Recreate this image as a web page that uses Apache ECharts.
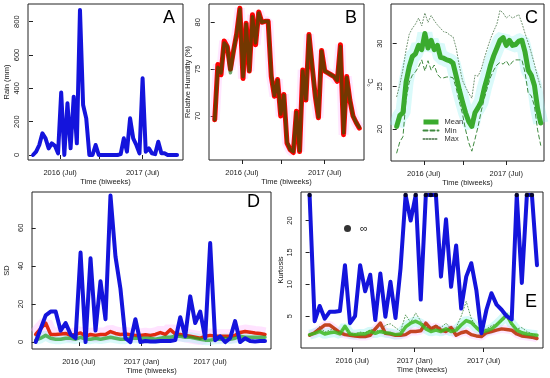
<!DOCTYPE html>
<html><head><meta charset="utf-8">
<script src="https://cdn.jsdelivr.net/npm/echarts@6/dist/echarts.min.js"></script>
<style>html,body{margin:0;padding:0;background:#fff}#c{width:550px;height:378px}</style>
</head><body><div id="c"></div>
<script>
// ---------- DATA ----------
const timeTickLabels = ['2016 (Jul)', '2017 (Jan)', '2017 (Jul)'];
const timeTicksABCD = [8.65, 21.25, 35.0];   // biweek index of tick marks (panels A-D)
const timeTicksE = [8.45, 20.8, 34.43];      // biweek index of tick marks (panel E)

// Panel A: rain (mm)
const rain = [0, 20, 60, 130, 100, 40, 70, 55, 10, 375, 0, 310, 40, 350, 70, 870, 300, 220, 0, 0, 60, 0, 0, 0, 0, 0, 0, 0, 5, 100, 20, 220, 100, 60, 10, 460, 20, 40, 10, 5, 80, 10, 10, 0, 0, 0, 0];
// Panel B: relative humidity (%) two overlaid series
const rhRed = [69.6, 75.5, 74.4, 78, 77.4, 75, 77, 78.8, 81.5, 74, 79.9, 74.8, 80.8, 77.6, 81.1, 80, 80.1, 80.1, 74.2, 72.1, 73.9, 70, 72.3, 67.1, 66.4, 66.1, 70.5, 66.2, 74.9, 71.7, 78.7, 75.3, 72.1, 69.8, 77, 74.8, 74.6, 74.4, 74.2, 73.7, 77.6, 68, 74.2, 71.7, 70, 69.3, 68.7];
const rhGreen = [69.6, 75.2, 74.6, 77.8, 77.4, 74.6, 77, 78.8, 81.4, 74.2, 79.8, 74.8, 80.6, 77.8, 81, 80, 80.1, 80.1, 74.4, 72.2, 73.8, 70.2, 72.2, 67.2, 66.4, 66.2, 70.4, 66.3, 74.8, 71.8, 78.6, 75.3, 72.2, 69.9, 76.9, 74.8, 74.6, 74.4, 74.2, 73.8, 77.4, 68.2, 74.1, 71.7, 70, 69.3, 68.8];
// Panel C: temperature (°C)
const tMean = [20.3, 21.6, 21.9, 25.5, 27.3, 28.5, 28.8, 29.8, 29.3, 31.2, 29.5, 30.4, 29.3, 29.8, 28.4, 28.3, 28.1, 28.0, 27.7, 26.2, 24.6, 23.2, 21.9, 20.9, 20.3, 21.9, 22.5, 23.2, 24.8, 26.1, 27.5, 28.6, 29.5, 30.4, 30.7, 29.8, 30.4, 29.8, 29.9, 30.3, 30.4, 29.0, 26.9, 26.3, 25.1, 22.4, 20.7];
const tMin = [17.2, 18.5, 19.1, 23.5, 25.5, 26.3, 26.7, 27.3, 28.1, 26.8, 28.0, 26.9, 27.5, 26.4, 26.0, 26.0, 26.1, 26.1, 26.0, 24.8, 23.2, 21.8, 19.9, 18.4, 17.4, 18.8, 20.3, 22.1, 23.6, 24.9, 26.1, 26.9, 27.5, 27.8, 27.6, 28.0, 27.4, 27.9, 28.1, 28.1, 28.1, 26.6, 24.2, 23.9, 22.7, 19.9, 18.1];
const tMax = [23.8, 25.2, 27.0, 29.3, 31.1, 31.8, 32.3, 33.0, 32.1, 33.6, 32.5, 33.3, 32.7, 32.2, 31.8, 31.4, 31.3, 31.0, 30.8, 29.5, 27.4, 25.7, 24.9, 24.2, 23.6, 26.3, 26.2, 27.0, 28.3, 29.5, 30.6, 31.5, 32.3, 33.9, 33.6, 33.0, 33.3, 33.0, 33.2, 33.4, 32.4, 31.2, 30.1, 28.9, 27.6, 26.1, 24.9];
// Panel D: standard deviations
const sdRain = [0, 7, 14, 16, 16, 6, 10, 4, 2, 47, 0, 44, 6, 32, 12, 77, 45, 28, 2, 0, 12, 0, 0.5, 0.3, 0.3, 0.5, 0.5, 0.5, 1, 13, 3, 24, 10, 16, 2, 52, 1, 3, 0, 2, 11, 0, 2, 0.5, 0.3, 0.5, 0.5];
const sdRH = [4, 7, 10, 4, 4, 4.2, 4.5, 3.5, 4, 4.8, 3, 4, 3.5, 4, 4, 5.5, 4.5, 4, 4.2, 3.8, 3.5, 3.5, 3.8, 3.5, 4, 5, 4, 6.5, 4.2, 4, 3.5, 3, 2.5, 2, 3, 3.5, 3, 3, 3, 3, 3.5, 5, 5.5, 5.2, 4.8, 4.5, 4];
const sdTemp = [1, 2, 3.5, 2, 1.5, 1.5, 2, 2, 1.5, 2.5, 1.5, 1.5, 2, 1.5, 2, 2.5, 2, 1.5, 1.5, 2, 2, 2, 2, 2, 1.5, 2, 2.5, 2.5, 3, 3, 2.5, 2.5, 2, 1.5, 1, 1, 1.5, 1.5, 2, 1.5, 2, 3, 2.5, 2.5, 2.5, 2.5, 2.5];
// Panel E: kurtosis (24 = infinite)
const kRain = [24, 4.2, 6.6, 4.6, 5.7, 5.7, 5.8, 13, 3.9, 5, 13, 8.9, 11.5, 4.4, 11.7, 4.9, 10.4, 4.7, 12.5, 24, 20, 24, 7.6, 24, 24, 24, 11.2, 20.2, 9.6, 16.1, 6.2, 11.2, 13.3, 9.1, 2.3, 6, 8.6, 6.8, 6, 5, 4.5, 24, 10.2, 24, 24, 13];
const kRH = [2.0, 2.4, 3.0, 3.6, 3.6, 3.0, 2.4, 2.1, 2.0, 1.9, 1.8, 1.8, 2.0, 3.0, 3.9, 2.3, 2.2, 2.0, 2.0, 2.1, 2.6, 2.6, 2.7, 3.9, 3.0, 3.4, 2.8, 2.6, 3.2, 2.0, 2.4, 2.6, 2.1, 1.9, 1.8, 2.4, 2.6, 2.8, 3.0, 2.9, 2.8, 2.2, 1.9, 1.8, 1.7, 1.5];
const kTemp = [2.1, 2.3, 2.6, 2.2, 2.4, 2.5, 2.2, 3.4, 2.2, 2.1, 2.2, 2.2, 2.6, 2.3, 2.6, 2.4, 2.3, 2.1, 2.2, 3.3, 3.9, 4.2, 3.8, 3.0, 2.6, 2.8, 2.6, 3.0, 2.6, 2.8, 3.6, 4.3, 4.0, 3.2, 2.5, 2.7, 3.0, 3.6, 4.4, 5.2, 3.8, 2.8, 2.4, 2.2, 2.1, 2.0];
const kTempMax = [2.1, 2.6, 3.4, 2.5, 2.8, 3.0, 2.4, 3.2, 2.3, 2.2, 2.5, 2.4, 2.8, 3.0, 2.4, 3.6, 3.8, 3.2, 2.6, 5.2, 4.0, 5.5, 4.2, 3.3, 3.0, 3.6, 3.2, 3.9, 3.0, 3.2, 5.0, 7.3, 4.6, 3.4, 2.7, 3.0, 3.5, 3.8, 4.2, 4.8, 3.6, 3.0, 3.2, 2.6, 2.2, 2.0];
const infCap = 24;

// ---------- HELPERS ----------
const xy = a => a.map((v, i) => [i, v]);
const FONT = 'Liberation Sans, Arial, Helvetica, sans-serif';
const TXT = '#222';

function nearestLabel(v, ticks, labels) {
  let best = 0;
  ticks.forEach((t, k) => { if (Math.abs(t - v) < Math.abs(ticks[best] - v)) best = k; });
  return labels[best];
}
function xAxis(gi, min, max, ticks, labels) {
  return {
    type: 'value', gridIndex: gi, min: min, max: max,
    name: 'Time (biweeks)', nameLocation: 'middle', nameGap: 18,
    nameTextStyle: { fontSize: 7.5, color: TXT, fontFamily: FONT },
    axisLine: { show: false }, splitLine: { show: false },
    axisTick: { show: true, inside: false, length: 4, customValues: ticks, lineStyle: { color: '#222' } },
    axisLabel: { fontSize: 7.5, color: TXT, fontFamily: FONT, margin: 9,
      customValues: ticks, formatter: v => nearestLabel(v, ticks, labels) }
  };
}
function yAxis(gi, min, max, ticks, name, gap) {
  return {
    type: 'value', gridIndex: gi, min: min, max: max,
    name: name, nameLocation: 'middle', nameGap: gap, nameRotate: 90,
    nameTextStyle: { fontSize: 7.5, color: TXT, fontFamily: FONT },
    axisLine: { show: false }, splitLine: { show: false },
    axisTick: { show: true, inside: false, length: 4, customValues: ticks, lineStyle: { color: '#222' } },
    axisLabel: { fontSize: 7.5, color: TXT, fontFamily: FONT, rotate: 90, margin: 7, customValues: ticks }
  };
}
function line(name, gi, arr, color, width, type, z) {
  return { name: name, type: 'line', xAxisIndex: gi, yAxisIndex: gi, data: xy(arr),
    showSymbol: false, symbol: 'none', silent: true, z: z || 2,
    lineStyle: { color: color, width: width, type: type || 'solid', join: 'round', cap: 'round' },
    itemStyle: { color: color } };
}
// soft translucent halo behind a series (the light bands of the original)
function halo(id, gi, arr, color, width) {
  return { name: id, type: 'line', xAxisIndex: gi, yAxisIndex: gi, data: xy(arr),
    symbol: 'none', silent: true, z: 1,
    lineStyle: { color: color, width: width, join: 'bevel', cap: 'butt' } };
}

const grids = [
  { left: 28, top: 4, width: 155, height: 156 },
  { left: 209, top: 4, width: 155, height: 156 },
  { left: 391, top: 4, width: 153, height: 157 },
  { left: 32, top: 192, width: 239, height: 157 },
  { left: 301, top: 192, width: 242, height: 156 }
].map(g => Object.assign(g, { show: true, borderColor: '#222', borderWidth: 1, backgroundColor: 'transparent' }));

const labelsABC = [timeTickLabels[0], '', timeTickLabels[2]];

const option = {
  animation: false,
  backgroundColor: '#fff',
  textStyle: { fontFamily: FONT },
  grid: grids,
  xAxis: [
    xAxis(0, -1.6, 47.9, timeTicksABCD, labelsABC),
    xAxis(1, -1.82, 47.5, timeTicksABCD, labelsABC),
    xAxis(2, -1.82, 47.05, timeTicksABCD, labelsABC),
    xAxis(3, -0.74, 47.2, timeTicksABCD, timeTickLabels),
    xAxis(4, -1.7, 46.19, timeTicksE, timeTickLabels)
  ],
  yAxis: [
    yAxis(0, -30, 906, [0, 200, 400, 600, 800], 'Rain (mm)', 17),
    yAxis(1, 65.3, 81.95, [70, 75, 80], 'Relative Humidity (%)', 17),
    yAxis(2, 16.25, 34.65, [20, 25, 30], '°C', 16),
    yAxis(3, -3.66, 78.85, [0, 20, 40, 60], 'SD', 21),
    yAxis(4, 0, 24.48, [5, 10, 15, 20], 'Kurtosis', 16)
  ],
  legend: [
    { data: [{ name: 'Mean', lineStyle: { width: 5, cap: 'butt' } }, { name: 'Min' }, { name: 'Max' }],
      orient: 'vertical', left: 416, top: 113, itemWidth: 15, itemHeight: 8, itemGap: 0.5,
      itemStyle: { opacity: 0 },
      textStyle: { fontSize: 7.5, color: '#333', fontFamily: FONT, padding: [0, 0, 0, 1] }, selectedMode: false },
    { data: [{ name: '∞', icon: 'circle' }], left: 339, top: 218, itemWidth: 7, itemHeight: 7,
      textStyle: { fontSize: 11, color: '#222', fontFamily: FONT, padding: [0, 0, 0, 4] }, selectedMode: false }
  ],
  graphic: [
    { type: 'text', left: 163, top: 9, style: { text: 'A', fontSize: 18, fill: '#000', fontFamily: FONT } },
    { type: 'text', left: 345, top: 9, style: { text: 'B', fontSize: 18, fill: '#000', fontFamily: FONT } },
    { type: 'text', left: 525, top: 9, style: { text: 'C', fontSize: 18, fill: '#000', fontFamily: FONT } },
    { type: 'text', left: 247, top: 193, style: { text: 'D', fontSize: 18, fill: '#000', fontFamily: FONT } },
    { type: 'text', left: 525, top: 293, style: { text: 'E', fontSize: 18, fill: '#000', fontFamily: FONT } }
  ],
  series: [
    // A
    line('rain', 0, rain, '#1414dc', 4),
    // B
    halo('rhHalo', 1, rhRed, 'rgba(255,170,255,0.28)', 10),
    line('rhRed', 1, rhRed, '#ff0000', 5),
    line('rhGreen', 1, rhGreen, 'rgba(0,100,0,0.55)', 3.5, 'solid', 3),
    // C
    halo('tHalo', 2, tMean, 'rgba(150,240,240,0.35)', 15),
    line('Max', 2, tMax, '#6f926f', 1, [1, 2]),
    line('Min', 2, tMin, '#3f8a3f', 1, [4, 3]),
    line('Mean', 2, tMean, '#3aab2e', 5, 'solid', 3),
    // D
    halo('sdHaloR', 3, sdRH, 'rgba(255,175,255,0.35)', 14),
    halo('sdHaloT', 3, sdTemp, 'rgba(150,240,240,0.35)', 10),
    line('sdRH', 3, sdRH, '#e02a10', 3.5),
    line('sdTemp', 3, sdTemp, 'rgba(30,160,30,0.7)', 3.5, 'solid', 3),
    line('sdRain', 3, sdRain, '#1414dc', 4, 'solid', 4),
    // E
    halo('kHaloT', 4, kTemp, 'rgba(150,240,240,0.4)', 10),
    halo('kHaloR', 4, kRH, 'rgba(255,175,255,0.3)', 8),
    line('kTempMax', 4, kTempMax, '#5c9c5c', 1, [1, 2]),
    line('kRH', 4, kRH, 'rgba(190,50,10,0.9)', 3.5),
    line('kTemp', 4, kTemp, 'rgba(60,185,30,0.85)', 3.5, 'solid', 3),
    line('kRain', 4, kRain, '#1414dc', 4, 'solid', 4),
    { name: '∞', type: 'scatter', xAxisIndex: 4, yAxisIndex: 4, silent: true, z: 5,
      data: xy(kRain).filter(p => p[1] >= infCap), symbol: 'circle', symbolSize: 4.5,
      itemStyle: { color: '#000' } }
  ]
};
const chart = echarts.init(document.getElementById('c'), null, { renderer: 'canvas' });
chart.setOption(option);
</script></body></html>
